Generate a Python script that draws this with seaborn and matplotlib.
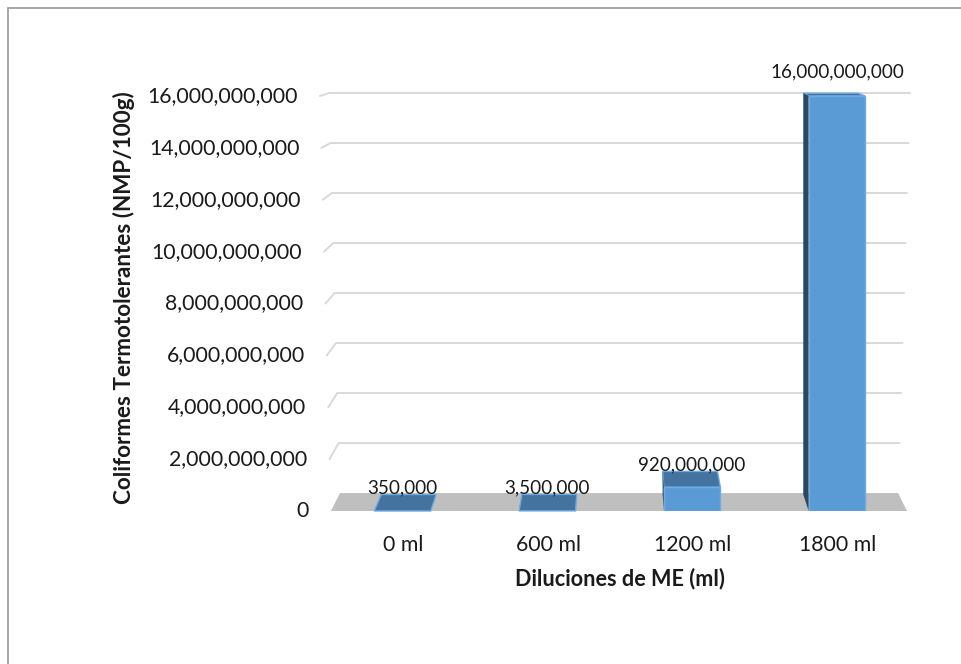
import matplotlib
matplotlib.use("Agg")
import matplotlib.pyplot as plt
from matplotlib.lines import Line2D
from matplotlib.patches import Polygon
import pandas as pd
import seaborn as sns

# ---- data -------------------------------------------------------------
categories = ["0 ml", "600 ml", "1200 ml", "1800 ml"]
coliformes = [350_000, 3_500_000, 920_000_000, 16_000_000_000]
y_ticks = [0, 2e9, 4e9, 6e9, 8e9, 10e9, 12e9, 14e9, 16e9]
x_title = "Diluciones de ME (ml)"
y_title = "Coliformes Termotolerantes (NMP/100g)"

# ---- style ------------------------------------------------------------
FRONT = "#5B9BD5"
FRONT_EDGE = "#6FAAE0"
TOP = "#44739F"
SIDE = "#2B4763"
FLOOR = "#BFBFBF"
GRID = "#D9D9D9"
BORDER = "#9A9A9A"

sns.set_style("white")
plt.rcParams["font.family"] = ["Lato", "DejaVu Sans"]

W, H = 961, 664
fig = plt.figure(figsize=(W / 100, H / 100), dpi=100)
fig.patch.set_facecolor("white")

# plot box (pixels) and scale of the front plane
L, R, T, B = 300, 930, 40, 511
PX_PER_CAT = 144.8
X0_PX = 402.5
PX_PER_VALUE = 25.94 / 1e9

ax = fig.add_axes([L / W, (H - B) / H, (R - L) / W, (B - T) / H])
ax.patch.set_alpha(0)

df = pd.DataFrame({"dilucion": categories, "nmp": coliformes})
BAR_W = 0.39
sns.barplot(data=df, x="dilucion", y="nmp", width=BAR_W, color=FRONT,
            saturation=1, edgecolor=FRONT_EDGE, linewidth=1.0,
            errorbar=None, zorder=4, ax=ax)

ax.set_xlim((L - X0_PX) / PX_PER_CAT, (R - X0_PX) / PX_PER_CAT)
ax.set_ylim(0, (B - T) / PX_PER_VALUE)
ax.axis("off")

# ---- simple perspective: push points back towards a vanishing point ----
VP = (1.5, 19.2e9)
KX, KY = 0.031, 0.036
D_BAR = 0.92


def push(x, y, d=1.0):
    return (x + d * KX * (VP[0] - x), y + d * KY * (VP[1] - y))


top_val = y_ticks[-1]


def wall_left(v):
    return -0.494 - 0.076 * v / top_val


def wall_right(v):
    return 3.484 + 0.085 * v / top_val


# floor
floor = [(wall_left(0), 0), (wall_right(0), 0),
         push(wall_right(0), 0), push(wall_left(0), 0)]
ax.add_patch(Polygon(floor, closed=True, facecolor=FLOOR, edgecolor="none",
                     zorder=1, clip_on=False))

# gridlines on back wall with the side-wall kink
for v in y_ticks[1:]:
    pts = [(wall_left(v), v), push(wall_left(v), v), push(wall_right(v), v)]
    ax.add_line(Line2D([p[0] for p in pts], [p[1] for p in pts],
                       color=GRID, lw=1.4, zorder=1.5, clip_on=False,
                       solid_joinstyle="miter"))

# y tick labels along the front edge of the side wall
for v in y_ticks:
    ax.annotate(f"{v:,.0f}", xy=(wall_left(v), v), xytext=(-22, 0),
                textcoords="offset pixels", ha="right", va="center",
                fontsize=15.3, color="#1A1A1A", annotation_clip=False)

# top and side faces of each bar, plus its value label
for i, h in enumerate(coliformes):
    x0, x1 = i - BAR_W / 2, i + BAR_W / 2
    top = [(x0, h), (x1, h), push(x1, h, D_BAR), push(x0, h, D_BAR)]
    ax.add_patch(Polygon(top, closed=True, facecolor=TOP, edgecolor=FRONT_EDGE,
                         lw=1.0, zorder=3, clip_on=False))
    if x0 > VP[0]:
        side = [(x0, 0), (x0, h), push(x0, h, D_BAR), push(x0, 0, D_BAR)]
        ax.add_patch(Polygon(side, closed=True, facecolor=SIDE,
                             edgecolor="none", zorder=3, clip_on=False))
    elif x1 < VP[0]:
        side = [(x1, 0), (x1, h), push(x1, h, D_BAR), push(x1, 0, D_BAR)]
        ax.add_patch(Polygon(side, closed=True, facecolor=SIDE,
                             edgecolor="none", zorder=3, clip_on=False))
    back_y = push(i, h, D_BAR)[1]
    lift = 16 if h == max(coliformes) else 1
    ax.annotate(f"{h:,.0f}", xy=(i, back_y), xytext=(0, lift),
                textcoords="offset pixels", ha="center", va="baseline",
                fontsize=13.6, color="#1A1A1A", annotation_clip=False)

# category labels
for i, c in enumerate(categories):
    ax.annotate(c, xy=(i, 0), xytext=(1, -34), textcoords="offset pixels",
                ha="center", va="center", fontsize=15.3, color="#1A1A1A",
                annotation_clip=False)

# axis titles
fig.text(620 / W, 1 - 579 / H, x_title, ha="center", va="center",
         fontsize=15.6, fontweight="bold", color="#1A1A1A")
fig.text(124 / W, 1 - 298 / H, y_title, ha="center", va="center",
         rotation=90, fontsize=16.2, fontweight="bold", color="#1A1A1A")

# chart-area border (top and left edges)
fig.add_artist(Line2D([8 / W, 1], [1 - 8 / H, 1 - 8 / H],
                      transform=fig.transFigure, color=BORDER, lw=1.2))
fig.add_artist(Line2D([8 / W, 8 / W], [0, 1 - 8 / H],
                      transform=fig.transFigure, color=BORDER, lw=1.2))

fig.savefig("out.png", dpi=100)
